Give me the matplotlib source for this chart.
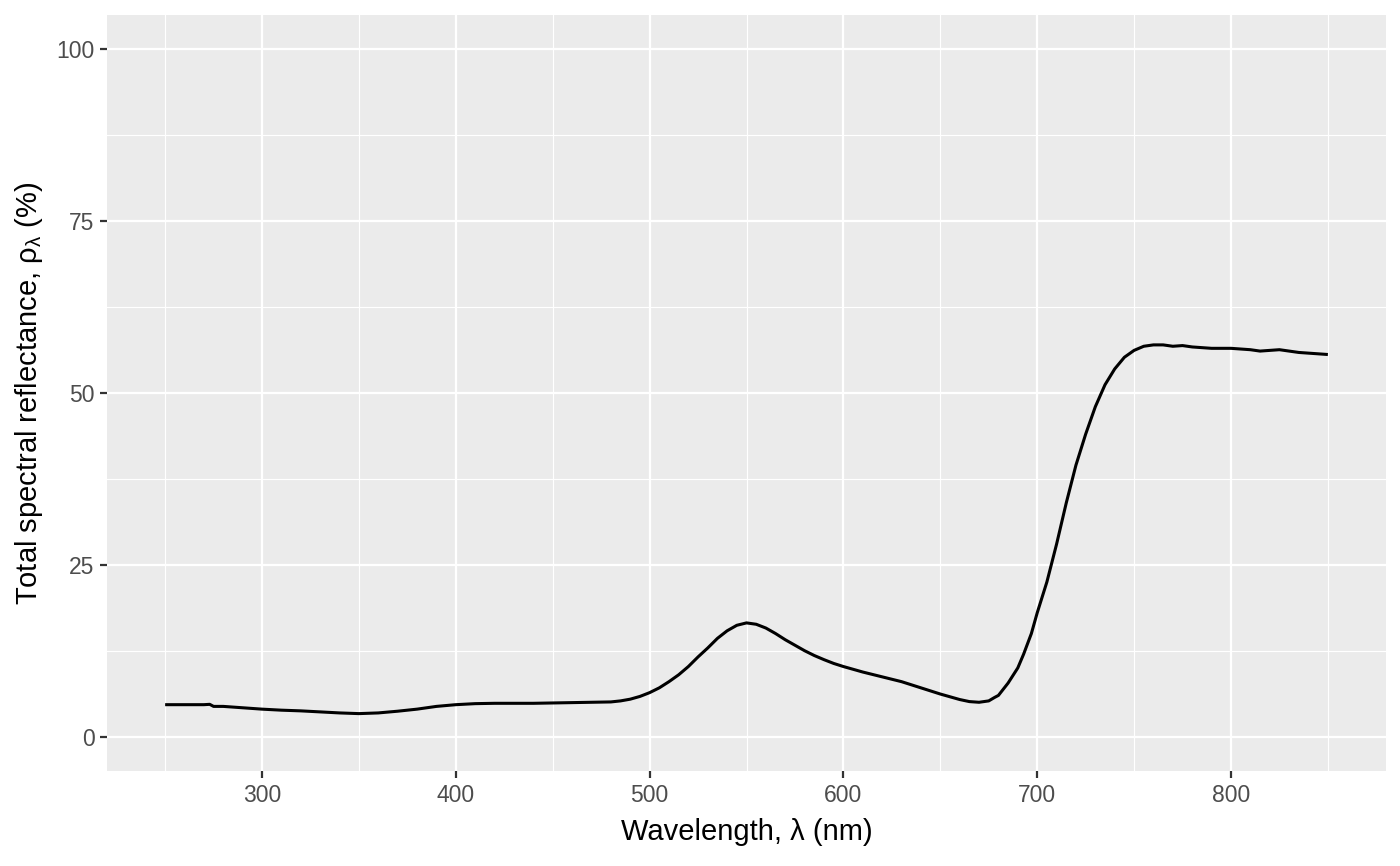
import matplotlib
matplotlib.use("Agg")
import matplotlib.pyplot as plt
from matplotlib.ticker import MultipleLocator

plt.rcParams['font.family'] = ['Liberation Sans', 'DejaVu Sans']
plt.rcParams['mathtext.fontset'] = 'custom'
plt.rcParams['mathtext.rm'] = 'Liberation Sans'
plt.rcParams['mathtext.it'] = 'Liberation Sans'

wavelength = [250, 260, 270, 273, 275, 280, 285, 290, 300, 310, 320, 330, 340, 350,
              360, 370, 380, 390, 400, 410, 420, 430, 440, 450, 460, 470, 480, 485,
              490, 495, 500, 505, 510, 515, 520, 525, 530, 535, 540, 545, 550, 555,
              560, 565, 570, 575, 580, 585, 590, 595, 600, 610, 620, 630, 640, 650,
              655, 660, 665, 670, 675, 678, 680, 685, 690, 693, 697, 700, 705, 710,
              715, 720, 725, 730, 735, 740, 745, 750, 755, 760, 765, 770, 775, 780,
              785, 790, 795, 800, 805, 810, 815, 820, 825, 830, 835, 840, 845, 850]
reflectance = [4.65, 4.65, 4.65, 4.7, 4.4, 4.4, 4.3, 4.2, 4.0, 3.85, 3.75, 3.6, 3.45, 3.35,
               3.45, 3.7, 4.0, 4.4, 4.65, 4.8, 4.85, 4.85, 4.85, 4.9, 4.95, 5.0, 5.05, 5.2,
               5.45, 5.85, 6.4, 7.1, 8.0, 9.0, 10.2, 11.6, 12.9, 14.3, 15.4, 16.2, 16.55, 16.35,
               15.8, 15.0, 14.1, 13.3, 12.5, 11.8, 11.2, 10.65, 10.2, 9.4, 8.7, 8.0, 7.1, 6.2,
               5.8, 5.4, 5.1, 5.0, 5.2, 5.7, 6.0, 7.8, 10.0, 12.0, 15.0, 18.0, 22.5, 28.0,
               34.0, 39.5, 44.0, 48.0, 51.2, 53.5, 55.2, 56.2, 56.8, 57.0, 57.0, 56.8, 56.9, 56.7,
               56.6, 56.5, 56.5, 56.5, 56.4, 56.3, 56.1, 56.2, 56.3, 56.1, 55.9, 55.8, 55.7, 55.6]

x_ticks = [300, 400, 500, 600, 700, 800]
y_ticks = [0, 25, 50, 75, 100]

fig = plt.figure(figsize=(14, 8.66), dpi=100)
ax = fig.add_axes([107/1400, 1-771/866, (1386-107)/1400, (771-15)/866])
ax.set_facecolor('#EBEBEB')
for s in ax.spines.values():
    s.set_visible(False)

ax.plot(wavelength, reflectance, color='black', lw=2.2, solid_capstyle='butt',
        solid_joinstyle='round', zorder=3)

ax.set_xlim(220, 880)
ax.set_ylim(-5, 105)
ax.set_xticks(x_ticks)
ax.set_yticks(y_ticks)
ax.xaxis.set_minor_locator(MultipleLocator(50))
ax.yaxis.set_minor_locator(MultipleLocator(12.5))
ax.grid(which='major', color='white', lw=1.6, zorder=1)
ax.grid(which='minor', color='white', lw=0.8, zorder=1)
ax.set_axisbelow(True)
ax.tick_params(which='major', length=5, width=1.6, color='#333333', labelcolor='#4D4D4D',
               labelsize=16.5, pad=4)
ax.tick_params(which='minor', length=0)

ax.set_xlabel('Wavelength, λ (nm)', fontsize=21, color='black', labelpad=8)
ax.set_ylabel(r'Total spectral reflectance, $\mathrm{\rho_{\lambda}}$ (%)', fontsize=21,
              color='black', labelpad=8)

fig.savefig('out.png', dpi=100, facecolor='white')
